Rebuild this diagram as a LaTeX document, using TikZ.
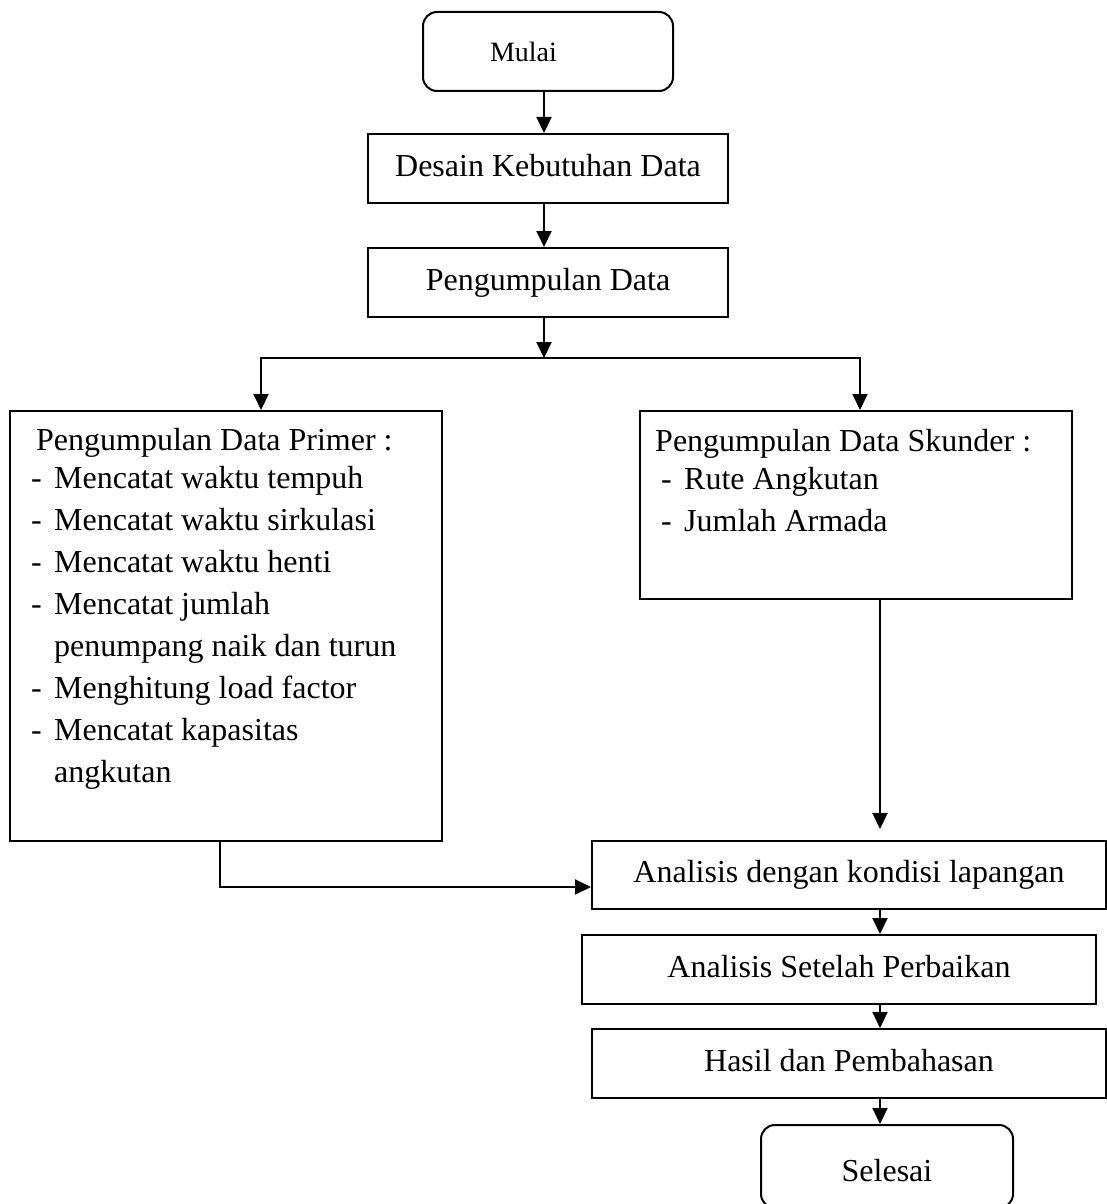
\documentclass[tikz,border=0pt]{standalone}
\usepackage{fontspec}
\setmainfont{Liberation Serif}
\usepackage{tikz}
\usetikzlibrary{positioning,arrows.meta}
\newcommand{\dashitem}{\makebox[23pt][l]{-}}
\tikzset{
  blk/.style={rectangle,draw=black,line width=2pt,align=center,inner sep=0pt,
    minimum height=69pt,text height=22pt,text depth=7pt,
    font=\fontsize{32}{38}\selectfont},
  blkr/.style={blk,rounded corners=14pt},
  txt/.style={anchor=north west,align=left,inner sep=0pt,
    font=\fontsize{32}{42}\selectfont},
  ar/.style={-{Triangle[length=16pt,width=15pt]},line width=2pt,draw=black},
}
\begin{document}
\begin{tikzpicture}[x=1pt,y=-1pt]
  \useasboundingbox (0,0) rectangle (1107,1204);
  % start and preparation
  \node[blkr,minimum width=250pt,minimum height=79pt,text height=21pt,text depth=0pt,
    font=\fontsize{28}{34}\selectfont] (mulai) at (548,51.5) {Mulai\hspace*{49pt}};
  \node[blk,minimum width=360pt,below=41pt of mulai] (desain) {Desain Kebutuhan Data};
  \node[blk,minimum width=360pt,below=43pt of desain] (kumpul) {Pengumpulan Data};
  \coordinate (mx) at (544,0);
  \coordinate (split) at (544,358);
  \draw[ar] (mulai.south -| mx) -- (desain.north -| mx);
  \draw[ar] (desain.south -| mx) -- (kumpul.north -| mx);
  \draw[ar] (kumpul.south -| mx) -- (split);
  % primary and secondary data
  \node[blk,minimum width=432pt,minimum height=430pt] (primer) at (226,626) {};
  \node[txt] (primertxt) at (31,428) {\hspace*{5pt}Pengumpulan Data Primer :\\[-4pt]
    \dashitem Mencatat waktu tempuh\\
    \dashitem Mencatat waktu sirkulasi\\
    \dashitem Mencatat waktu henti\\
    \dashitem Mencatat jumlah\\
    \hspace*{23pt}penumpang naik dan turun\\
    \dashitem Menghitung load factor\\
    \dashitem Mencatat kapasitas\\
    \hspace*{23pt}angkutan};
  \node[blk,minimum width=432pt,minimum height=188pt] (skunder) at (856,505) {};
  \node[txt] (skundertxt) at (655,429) {Pengumpulan Data Skunder :\\[-4pt]
    \hspace*{6pt}\dashitem Rute Angkutan\\
    \hspace*{6pt}\dashitem Jumlah Armada};
  \coordinate (sl) at (261,358);
  \coordinate (sr) at (860,358);
  \draw[ar] (split) -| (sl |- primer.north);
  \draw[ar] (split) -| (sr |- skunder.north);
  % analysis and result
  \node[blk,minimum width=514pt,minimum height=68pt] (kondisi) at (849,875) {Analisis dengan kondisi lapangan};
  \node[blk,minimum width=514pt,below=24pt of kondisi,xshift=-10pt] (setelah) {Analisis Setelah Perbaikan};
  \node[blk,minimum width=514pt,below=23pt of setelah,xshift=10pt] (hasil) {Hasil dan Pembahasan};
  \node[blkr,minimum width=252pt,minimum height=83pt,text height=29pt,text depth=0pt,
    below=25pt of hasil,xshift=38pt] (selesai) {Selesai};
  \coordinate (ax) at (880,0);
  \draw[ar,shorten >=11pt] (skunder.south -| ax) -- (kondisi.north -| ax);
  \draw[ar] ([xshift=-6pt]primer.south) |- ([yshift=-12pt]kondisi.west);
  \draw[ar] (kondisi.south -| ax) -- (setelah.north -| ax);
  \draw[ar] (setelah.south -| ax) -- (hasil.north -| ax);
  \draw[ar] (hasil.south -| ax) -- (selesai.north -| ax);
\end{tikzpicture}
\end{document}
